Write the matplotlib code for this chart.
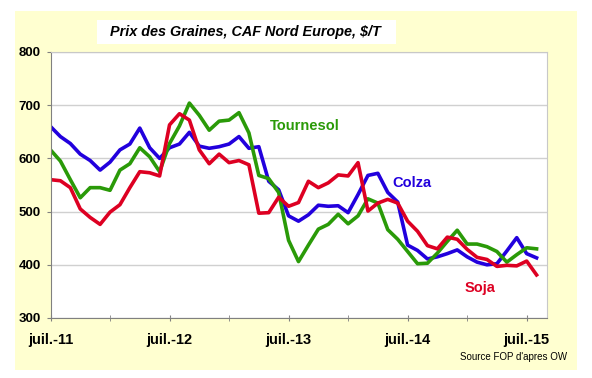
import matplotlib
matplotlib.use("Agg")
import matplotlib.pyplot as plt
from matplotlib.patches import Rectangle

plt.rcParams['font.family'] = ['Liberation Sans', 'DejaVu Sans']

# monthly prices, juil. 2011 -> août 2015 ($/T)
colza = [660, 641, 628, 608, 596, 578, 593, 616, 627, 657, 620, 600,
         620, 627, 649, 623, 619, 622, 627, 641, 619, 622, 557, 541,
         492, 482, 494, 512, 510, 511, 498, 532, 568, 572, 536, 518,
         437, 427, 411, 415, 421, 428, 415, 405, 400, 402, 426, 451,
         421, 413]
tournesol = [616, 595, 560, 526, 545, 545, 540, 578, 590, 620, 603, 575,
             628, 661, 704, 681, 653, 670, 672, 686, 648, 568, 562, 536,
             446, 406, 437, 467, 476, 495, 477, 492, 524, 516, 466, 448,
             425, 402, 403, 422, 444, 465, 439, 439, 434, 425, 405, 419,
             432, 430]
soja = [560, 558, 545, 505, 489, 476, 499, 513, 545, 575, 573, 567,
        663, 684, 672, 616, 590, 608, 592, 596, 588, 497, 498, 527,
        510, 517, 557, 545, 554, 569, 567, 592, 501, 516, 523, 516,
        482, 463, 436, 430, 452, 448, 429, 414, 410, 397, 399, 398,
        407, 381]
tick_labels = ['juil.-11', 'juil.-12', 'juil.-13', 'juil.-14', 'juil.-15']

months = list(range(len(colza)))

fig = plt.figure(figsize=(5.92, 3.78), dpi=100)
# yellow frame and white title box
fig.patches.append(Rectangle((15/592, 8/378), 562/592, 359/378, transform=fig.transFigure,
                             facecolor='#ffffd0', edgecolor='none', zorder=-2))
fig.patches.append(Rectangle((97/592, 1 - 44/378), 299/592, 24/378, transform=fig.transFigure,
                             facecolor='white', edgecolor='none', zorder=-1))
fig.text(110/592, 1 - 32/378, 'Prix des Graines, CAF Nord Europe, $/T', fontsize=10.4,
         fontweight='bold', fontstyle='italic', ha='left', va='center', zorder=2)

ax = fig.add_axes([50.5/592, 1 - 318/378, 496/592, 266/378])
ax.set_facecolor('white')

ax.plot(months, colza, color='#2200dd', lw=2.6)
ax.plot(months, tournesol, color='#2a9a08', lw=2.6)
ax.plot(months, soja, color='#dd0022', lw=2.6)

ax.set_xlim(0, 50)
ax.set_ylim(300, 800)
ax.set_yticks([300, 400, 500, 600, 700, 800])
ax.set_xticks([0, 12, 24, 36, 48])
ax.set_xticklabels(tick_labels)
ax.set_xticks([6, 18, 30, 42], minor=True)
ax.yaxis.grid(True, color='#d0d0d0', lw=1)
ax.set_axisbelow(True)

for s in ['top', 'right']:
    ax.spines[s].set_color('#c8c8c8')
for s in ['left', 'bottom']:
    ax.spines[s].set_color('#808080')
ax.tick_params(axis='y', direction='out', length=3, color='#808080', labelsize=9.5, pad=4)
ax.tick_params(axis='x', which='both', direction='inout', length=5, color='#808080',
               labelsize=10.5, pad=8)
for lab in ax.get_xticklabels() + ax.get_yticklabels():
    lab.set_fontweight('bold')

# series names written next to the lines
fig.text(270/592, 1 - 126/378, 'Tournesol', fontsize=10.5, fontweight='bold',
         color='#2a9a08', va='center')
fig.text(392/592, 1 - 183/378, 'Colza', fontsize=10.5, fontweight='bold',
         color='#2200dd', va='center')
fig.text(465/592, 1 - 288/378, 'Soja', fontsize=10.5, fontweight='bold',
         color='#dd0022', va='center')
fig.text(460/592, 1 - 357/378, "Source FOP d'apres OW", fontsize=7, va='center')

fig.savefig('out.png', dpi=100)
